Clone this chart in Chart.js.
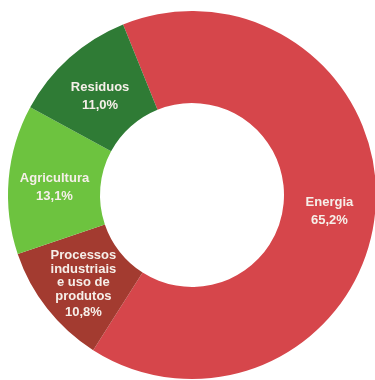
<!DOCTYPE html>
<html>
<head>
<meta charset="utf-8">
<script src="https://cdn.jsdelivr.net/npm/chart.js@4/dist/chart.umd.min.js"></script>
<style>
  html, body { margin: 0; padding: 0; background: #fff; overflow: hidden; }
  #wrap { position: absolute; left: 0; top: 0; width: 384px; height: 390px; }
</style>
</head>
<body>
<div id="wrap"><canvas id="emissoesChart"></canvas></div>
<script>
// Emissões por setor (%)
const setores = ['Energia', 'Processos\nindustriais\ne uso de\nprodutos', 'Agricultura', 'Residuos'];
const percentuais = [65.2, 10.8, 13.1, 11.0];
const cores = ['#d6464b', '#a33b30', '#6dc33f', '#2f7b35'];

// Rótulos brancos no meio de cada fatia
const rotulosFatias = {
    id: 'rotulosFatias',
    afterDatasetsDraw(chart) {
        const ctx = chart.ctx;
        const meta = chart.getDatasetMeta(0);
        ctx.save();
        ctx.fillStyle = '#f6efe9';
        ctx.font = 'bold 13px "Liberation Sans", Arial, sans-serif';
        ctx.textAlign = 'center';
        ctx.textBaseline = 'middle';
        meta.data.forEach((arc, i) => {
            const p = arc.tooltipPosition();
            const linhas = setores[i].split('\n');
            const alturaLinha = linhas.length > 1 ? 13.5 : 18;
            linhas.push(percentuais[i].toFixed(1).replace('.', ',') + '%');
            const total = (linhas.length - 1) * alturaLinha + (linhas.length > 2 ? 3 : 0);
            let y = p.y + 4 - total / 2;
            linhas.forEach((txt, j) => {
                if (j === linhas.length - 1 && linhas.length > 2) y += 3;
                ctx.fillText(txt, p.x, y);
                y += alturaLinha;
            });
        });
        ctx.restore();
    }
};

const ctx = document.getElementById('emissoesChart').getContext('2d');
new Chart(ctx, {
    type: 'doughnut',
    data: {
        labels: setores,
        datasets: [{
            data: percentuais,
            backgroundColor: cores,
            borderWidth: 0
        }]
    },
    options: {
        responsive: true,
        maintainAspectRatio: false,
        animation: false,
        rotation: -22,
        cutout: '50%',
        layout: {
            padding: { left: 8, right: 8, top: 11, bottom: 11 }
        },
        plugins: {
            legend: { display: false },
            tooltip: { enabled: false }
        }
    },
    plugins: [rotulosFatias]
});
</script>
</body>
</html>
